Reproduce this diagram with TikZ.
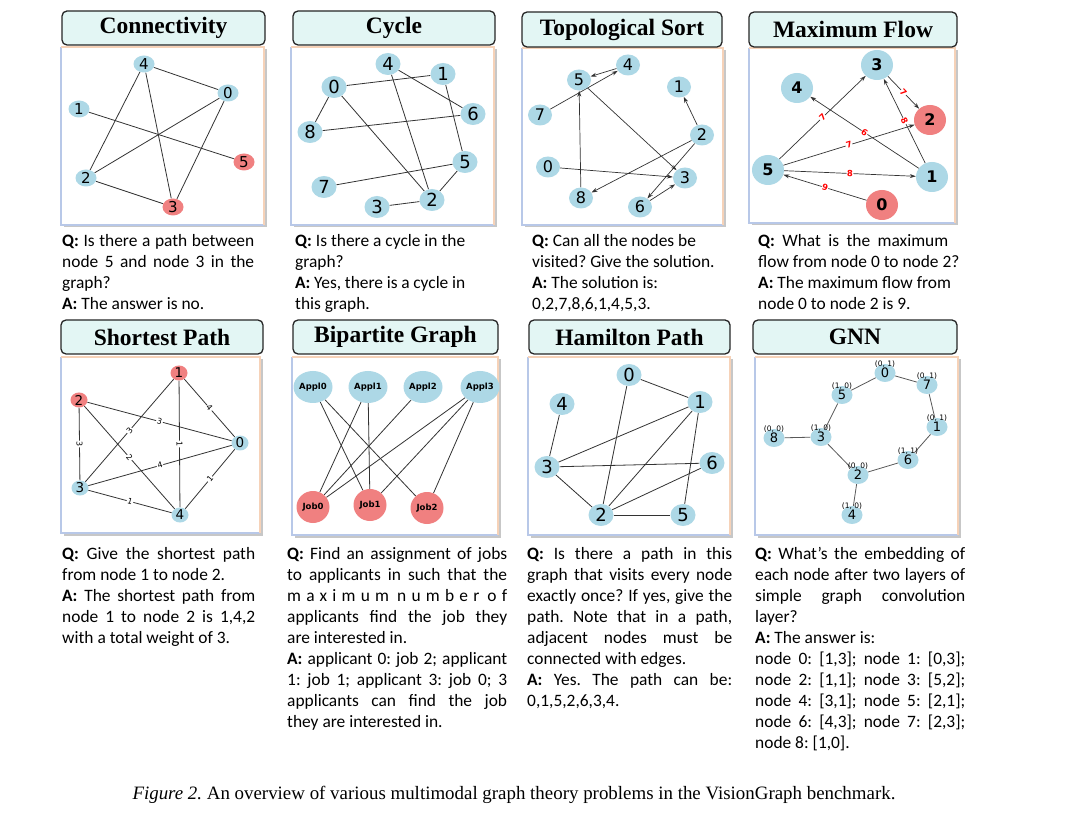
\documentclass[tikz,border=0pt]{standalone}
\usepackage{fontspec}
\setmainfont{Carlito}
\newfontfamily\dejavu{DejaVu Sans}
\newfontfamily\serifface{Liberation Serif}
\usetikzlibrary{arrows.meta,shapes.geometric}
\pgfdeclarelayer{framelayer}
\pgfdeclarelayer{edgelayer}
\pgfdeclarelayer{nodelayer}
\pgfsetlayers{framelayer,edgelayer,nodelayer,main}
\definecolor{nodeblue}{HTML}{ADD8E6}
\definecolor{nodered}{HTML}{F08080}
\definecolor{titlecyan}{HTML}{E3F6F4}
\definecolor{frameblue}{HTML}{B8C8E8}
\definecolor{framepeach}{HTML}{F6D2B8}
\tikzstyle{vertex}=[ellipse,fill=nodeblue,inner sep=0pt,font=\dejavu]
\tikzstyle{hotvertex}=[vertex,fill=nodered]
\tikzstyle{link}=[draw=black!80,line width=0.8pt]
\tikzstyle{arrowlink}=[->,>={Stealth[length=6pt,width=4pt]},draw=black!80,line width=0.7pt]
\tikzstyle{weight}=[midway,sloped,fill=white,inner sep=0.8pt,font=\dejavu\fontsize{8}{8}\selectfont]
\tikzstyle{flowweight}=[midway,sloped,fill=white,inner sep=0.5pt,text=red,font=\dejavu\bfseries\fontsize{8.5}{9}\selectfont]
\tikzstyle{feat}=[inner sep=0pt,font=\dejavu\fontsize{7.5}{8}\selectfont]
\tikzstyle{titlebox}=[rectangle,rounded corners=5pt,draw=black!85,line width=1.3pt,fill=titlecyan,minimum height=34pt,font=\serifface\bfseries\fontsize{23.5}{27}\selectfont]
\tikzstyle{qa}=[anchor=north west,inner sep=0pt,align=left,font=\fontsize{17.4}{21}\selectfont]
\frenchspacing
% one justified line of a Q/A block
\newcommand{\jl}[2][193pt]{\makebox[#1][s]{#2}}
% white panel with soft shadow and two-tone border
\newcommand{\graphframe}[4]{%
  \fill[black!22] (#1+2.5,#2+2.5) rectangle (#3+2.5,#4+2.5);
  \fill[white] (#1,#2) rectangle (#3,#4);
  \draw[frameblue,line width=1.5pt] (#3,#4) -- (#1,#4) -- (#1,#2);
  \draw[framepeach,line width=1.5pt] (#1,#2) -- (#3,#2) -- (#3,#4);}

\begin{document}
\begin{tikzpicture}[x=1pt,y=-1pt]
	\useasboundingbox (0,0) rectangle (1080,826);
	\begin{pgfonlayer}{framelayer}
		\graphframe{61}{47}{264}{225}
		\graphframe{291}{47}{494}{225}
		\graphframe{522}{48}{723}{225}
		\graphframe{749}{48}{955}{223}
		\graphframe{61}{357}{260}{533}
		\graphframe{292}{357}{498}{535}
		\graphframe{528}{357}{730}{535}
		\graphframe{755}{357}{958}{535}
	\end{pgfonlayer}
	\node [style=titlebox, minimum width=203pt] (ttl1) at (163.5,28) {Connectivity};
	\node [style=titlebox, minimum width=202pt] (ttl2) at (394,28) {Cycle};
	\node [style=titlebox, minimum width=200pt, minimum height=35pt] (ttl3) at (622,29.5) {Topological Sort};
	\node [style=titlebox, minimum width=208pt, minimum height=35pt] (ttl4) at (853,29.5) {Maximum Flow};
	\node [style=titlebox, minimum width=202pt] (ttl5) at (162,337) {Shortest Path};
	\node [style=titlebox, minimum width=205pt] (ttl6) at (395.5,337) {Bipartite Graph};
	\node [style=titlebox, minimum width=201pt] (ttl7) at (629.5,337) {Hamilton Path};
	\node [style=titlebox, minimum width=204pt] (ttl8) at (855,337) {GNN};
	\begin{pgfonlayer}{nodelayer}
		% connectivity
		\begin{scope}[vertex/.append style={minimum width=21pt,minimum height=17pt,font=\dejavu\fontsize{15}{15}\selectfont}]
		\node [style=vertex] (c4) at (144,64) {4};
		\node [style=vertex] (c0) at (228,93) {0};
		\node [style=vertex] (c1) at (79,109) {1};
		\node [style=hotvertex] (c5) at (244,162) {5};
		\node [style=vertex] (c2) at (86,178) {2};
		\node [style=hotvertex] (c3) at (173,207) {3};
		\end{scope}
		% cycle
		\begin{scope}[vertex/.append style={minimum width=25pt,minimum height=22pt,font=\dejavu\fontsize{18}{18}\selectfont}]
		\node [style=vertex] (y4) at (388,64) {4};
		\node [style=vertex] (y1) at (443,74) {1};
		\node [style=vertex] (y0) at (334,87) {0};
		\node [style=vertex] (y6) at (473,114) {6};
		\node [style=vertex] (y8) at (310,132) {8};
		\node [style=vertex] (y5) at (465,162) {5};
		\node [style=vertex] (y7) at (324,187) {7};
		\node [style=vertex] (y2) at (432,200) {2};
		\node [style=vertex] (y3) at (377,207) {3};
		\end{scope}
		% topological sort
		\begin{scope}[vertex/.append style={minimum width=24pt,minimum height=21pt,font=\dejavu\fontsize{16}{16}\selectfont}]
		\node [style=vertex] (t4) at (628,65) {4};
		\node [style=vertex] (t5) at (579,80) {5};
		\node [style=vertex] (t1) at (679,87) {1};
		\node [style=vertex] (t7) at (540,115) {7};
		\node [style=vertex] (t2) at (702,135) {2};
		\node [style=vertex] (t0) at (548,167) {0};
		\node [style=vertex] (t3) at (685,178) {3};
		\node [style=vertex] (t8) at (581,198) {8};
		\node [style=vertex] (t6) at (640,207) {6};
		\end{scope}
		% maximum flow
		\begin{scope}[vertex/.append style={minimum width=32pt,minimum height=30pt,font=\dejavu\bfseries\fontsize{16}{16}\selectfont}]
		\node [style=vertex] (f3) at (877,65) {3};
		\node [style=vertex] (f4) at (797,88) {4};
		\node [style=hotvertex] (f2) at (930,120) {2};
		\node [style=vertex] (f5) at (768,170) {5};
		\node [style=vertex] (f1) at (932,177) {1};
		\node [style=hotvertex] (f0) at (882,205) {0};
		\end{scope}
		% shortest path
		\begin{scope}[vertex/.append style={minimum width=17pt,minimum height=15pt,font=\dejavu\fontsize{13.5}{14}\selectfont}]
		\node [style=hotvertex] (s1) at (179,373) {1};
		\node [style=hotvertex] (s2) at (79,400) {2};
		\node [style=vertex] (s0) at (240,443) {0};
		\node [style=vertex] (s3) at (80,488) {3};
		\node [style=vertex] (s4) at (180,515) {4};
		\end{scope}
		% bipartite graph
		\begin{scope}[vertex/.append style={minimum width=33pt,minimum height=32pt,font=\dejavu\bfseries\fontsize{8.5}{9}\selectfont}]
		\node [style=vertex] (ba0) at (313,387) {Appl0};
		\node [style=vertex] (ba1) at (368,387) {Appl1};
		\node [style=vertex] (ba2) at (423,387) {Appl2};
		\node [style=vertex] (ba3) at (480,387) {Appl3};
		\node [style=hotvertex] (bj0) at (313,507) {Job0};
		\node [style=hotvertex] (bj1) at (370,505) {Job1};
		\node [style=hotvertex] (bj2) at (427,508) {Job2};
		\end{scope}
		% hamilton path
		\begin{scope}[vertex/.append style={minimum width=25pt,minimum height=22pt,font=\dejavu\fontsize{18}{18}\selectfont}]
		\node [style=vertex] (h0) at (629,375) {0};
		\node [style=vertex] (h4) at (562,404) {4};
		\node [style=vertex] (h1) at (700,402) {1};
		\node [style=vertex] (h3) at (547,467) {3};
		\node [style=vertex] (h6) at (712,463) {6};
		\node [style=vertex] (h2) at (601,515) {2};
		\node [style=vertex] (h5) at (683,515) {5};
		\end{scope}
		% gnn
		\begin{scope}[vertex/.append style={minimum width=21pt,minimum height=18pt,font=\dejavu\fontsize{13}{13}\selectfont}, label distance=-3.5pt]
		\node [style=vertex, label={[feat]90:(0, 1)}] (g0) at (885,373) {0};
		\node [style=vertex, label={[feat]90:(0, 1)}] (g7) at (927,385) {7};
		\node [style=vertex, label={[feat]90:(1, 0)}] (g5) at (842,395) {5};
		\node [style=vertex, label={[feat]90:(0, 1)}] (g1) at (937,427) {1};
		\node [style=vertex, label={[feat]90:(0, 0)}] (g8) at (774,438) {8};
		\node [style=vertex, label={[feat]90:(1, 0)}] (g3) at (821,437) {3};
		\node [style=vertex, label={[feat]90:(1, 1)}] (g6) at (908,460) {6};
		\node [style=vertex, label={[feat]90:(0, 0)}] (g2) at (858,475) {2};
		\node [style=vertex, label={[feat]90:(1, 0)}] (g4) at (852,515) {4};
		\end{scope}
	\end{pgfonlayer}
	\begin{pgfonlayer}{edgelayer}
		\draw [style=link] (c4) to (c0);
		\draw [style=link] (c4) to (c2);
		\draw [style=link] (c4) to (c3);
		\draw [style=link] (c1) to (c5);
		\draw [style=link] (c0) to (c2);
		\draw [style=link] (c0) to (c3);
		\draw [style=link] (c2) to (c3);

		\draw [style=link] (y0) to (y1);
		\draw [style=link] (y0) to (y8);
		\draw [style=link] (y0) to (y2);
		\draw [style=link] (y4) to (y6);
		\draw [style=link] (y4) to (y2);
		\draw [style=link] (y1) to (y5);
		\draw [style=link] (y8) to (y6);
		\draw [style=link] (y7) to (y5);
		\draw [style=link] (y5) to (y2);
		\draw [style=link] (y3) to (y2);

		\draw [style=arrowlink] (t4) to (t5);
		\draw [style=arrowlink] (t7) to (t4);
		\draw [style=arrowlink] (t8) to (t5);
		\draw [style=arrowlink] (t5) to (t3);
		\draw [style=arrowlink] (t0) to (t3);
		\draw [style=arrowlink] (t2) to (t1);
		\draw [style=arrowlink] (t2) to (t8);
		\draw [style=arrowlink] (t2) to (t6);
		\draw [style=arrowlink] (t6) to (t3);

		\draw [style=arrowlink] (f5) to node [style=flowweight] {7} (f3);
		\draw [style=arrowlink] (f1) to node [style=flowweight] {6} (f4);
		\draw [style=arrowlink] (f1) to node [style=flowweight] {8} (f3);
		\draw [style=arrowlink] (f3) to node [style=flowweight] {7} (f2);
		\draw [style=arrowlink] (f5) to node [style=flowweight] {7} (f2);
		\draw [style=arrowlink] (f5) to node [style=flowweight] {8} (f1);
		\draw [style=arrowlink] (f0) to node [style=flowweight] {9} (f5);

		\draw [style=link] (s1) to node [style=weight] {4} (s0);
		\draw [style=link] (s1) to node [style=weight] {1} (s4);
		\draw [style=link] (s1) to node [style=weight] {3} (s3);
		\draw [style=link] (s2) to node [style=weight] {3} (s0);
		\draw [style=link] (s2) to node [style=weight] {3} (s3);
		\draw [style=link] (s2) to node [style=weight] {2} (s4);
		\draw [style=link] (s3) to node [style=weight] {4} (s0);
		\draw [style=link] (s3) to node [style=weight] {1} (s4);
		\draw [style=link] (s4) to node [style=weight] {1} (s0);

		\draw [style=link] (ba0) to (bj1);
		\draw [style=link] (ba0) to (bj2);
		\draw [style=link] (ba1) to (bj0);
		\draw [style=link] (ba1) to (bj1);
		\draw [style=link] (ba2) to (bj0);
		\draw [style=link] (ba3) to (bj0);
		\draw [style=link] (ba3) to (bj1);
		\draw [style=link] (ba3) to (bj2);

		\draw [style=link] (h0) to (h1);
		\draw [style=link] (h0) to (h2);
		\draw [style=link] (h4) to (h3);
		\draw [style=link] (h1) to (h3);
		\draw [style=link] (h1) to (h2);
		\draw [style=link] (h1) to (h5);
		\draw [style=link] (h3) to (h6);
		\draw [style=link] (h3) to (h2);
		\draw [style=link] (h6) to (h2);
		\draw [style=link] (h2) to (h5);

		\draw [style=link, draw=black!65] (g0) to (g5);
		\draw [style=link, draw=black!65] (g0) to (g7);
		\draw [style=link, draw=black!65] (g7) to (g1);
		\draw [style=link, draw=black!65] (g1) to (g6);
		\draw [style=link, draw=black!65] (g6) to (g2);
		\draw [style=link, draw=black!65] (g2) to (g3);
		\draw [style=link, draw=black!65] (g3) to (g5);
		\draw [style=link, draw=black!65] (g3) to (g8);
		\draw [style=link, draw=black!65] (g2) to (g4);
	\end{pgfonlayer}
	% questions and answers
	\node [style=qa] (qa1) at (62,231.8) {\strut\jl[192pt]{\textbf{Q:} Is there a path between}\\
		\jl[192pt]{node 5 and node 3 in the}\\
		graph?\\
		\textbf{A:} The answer is no.};
	\node [style=qa] (qa2) at (295,231.8) {\strut\jl[170pt]{\textbf{Q:} Is there a cycle in the}\\
		graph?\\
		\jl[170pt]{\textbf{A:} Yes, there is a cycle in}\\
		this graph.};
	\node [style=qa] (qa3) at (532,231.8) {\strut\textbf{Q:} Can all the nodes be\\
		visited? Give the solution.\\
		\textbf{A:} The solution is:\\
		0,2,7,8,6,1,4,5,3.};
	\node [style=qa] (qa4) at (758,231.8) {\strut\jl[190pt]{\textbf{Q:} What is the maximum}\\
		flow from node 0 to node 2?\\
		\textbf{A:} The maximum flow from\\
		node 0 to node 2 is 9.};
	\node [style=qa] (qa5) at (62,544.8) {\strut\jl{\textbf{Q:} Give the shortest path}\\
		from node 1 to node 2.\\
		\jl{\textbf{A:} The shortest path from}\\
		\jl{node 1 to node 2 is 1,4,2}\\
		with a total weight of 3.};
	\node [style=qa] (qa6) at (287,544.8) {\strut\jl[220pt]{\textbf{Q:} Find an assignment of jobs}\\
		\jl[220pt]{to applicants in such that the}\\
		\jl[220pt]{\addfontfeature{LetterSpace=30}maximum number of}\\
		\jl[220pt]{applicants find the job they}\\
		are interested in.\\
		\jl[220pt]{\textbf{A:} applicant 0: job 2; applicant}\\
		\jl[220pt]{1: job 1; applicant 3: job 0; 3}\\
		\jl[220pt]{applicants can find the job}\\
		they are interested in.};
	\node [style=qa] (qa7) at (527,544.8) {\strut\jl[205pt]{\textbf{Q:} Is there a path in this}\\
		\jl[205pt]{graph that visits every node}\\
		\jl[205pt]{exactly once? If yes, give the}\\
		\jl[205pt]{path. Note that in a path,}\\
		\jl[205pt]{adjacent nodes must be}\\
		connected with edges.\\
		\jl[205pt]{\textbf{A:} Yes. The path can be:}\\
		0,1,5,2,6,3,4.};
	\node [style=qa] (qa8) at (755,544.8) {\strut\jl[210pt]{\textbf{Q:} What's the embedding of}\\
		\jl[210pt]{each node after two layers of}\\
		\jl[210pt]{simple graph convolution}\\
		layer?\\
		\textbf{A:} The answer is:\\
		\jl[210pt]{node 0: [1,3]; node 1: [0,3];}\\
		\jl[210pt]{node 2: [1,1]; node 3: [5,2];}\\
		\jl[210pt]{node 4: [3,1]; node 5: [2,1];}\\
		\jl[210pt]{node 6: [4,3]; node 7: [2,3];}\\
		node 8: [1,0].};
	\node [font=\serifface\fontsize{18.9}{22}\selectfont] (caption) at (514,795) {\textit{Figure 2.} An overview of various multimodal graph theory problems in the VisionGraph benchmark.};
\end{tikzpicture}
\end{document}
